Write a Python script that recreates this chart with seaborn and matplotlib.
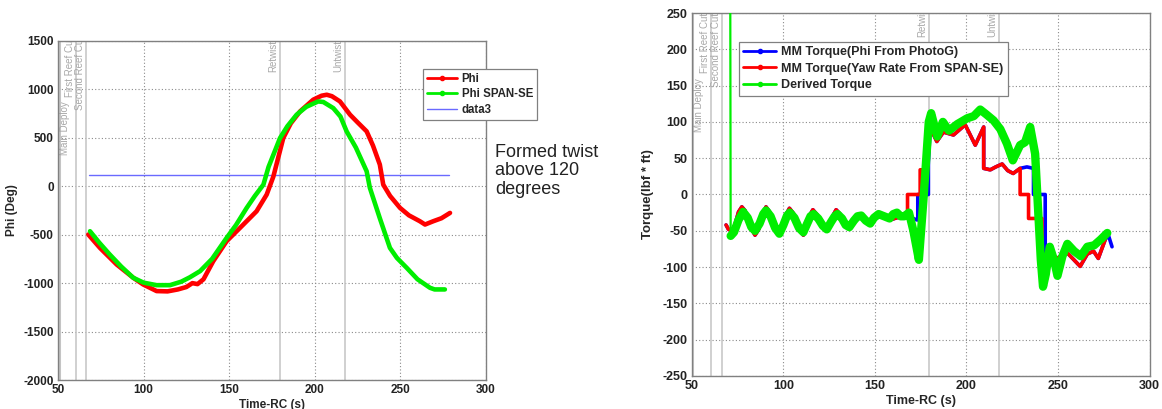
import numpy as np
import pandas as pd
import matplotlib
matplotlib.use("Agg")
import matplotlib.pyplot as plt
from matplotlib.lines import Line2D
import seaborn as sns

# ---------------- data ----------------
# Left panel: Phi (deg) vs Time-RC (s)
phi_t = [67.7, 74.5, 84.3, 94, 99.8, 107.6, 114, 120, 125, 128.5, 131.5, 135, 140.7, 148.5,
         156.3, 166, 171.9, 175.8, 181.6, 186, 191.4, 199.1, 204, 207, 210, 214.7, 220.6, 225,
         230.3, 234, 238, 240, 244, 249.8, 255, 261.4, 264.4, 269.2, 274, 279]
phi_v = [-498, -636, -808, -945, -1014, -1082, -1085, -1065, -1040, -1000, -1010, -960, -773, -567,
         -430, -258, -86, 100, 498, 650, 773, 894, 935, 945, 930, 876, 739, 660,
         567, 420, 224, 17, -100, -223, -300, -361, -395, -361, -330, -275]

phis_t = [68.7, 74, 80, 87, 94, 100, 107.6, 115.4, 122, 127, 133, 140, 148.5, 154, 160.2, 165, 170,
          173, 179.7, 184, 189.4, 195, 202, 205, 210.8, 215, 218.6, 224, 230.3, 232.2, 238, 243.9,
          248, 253.7, 260, 267.3, 270, 276]
phis_v = [-464, -580, -700, -830, -945, -995, -1021, -1021, -985, -940, -876, -750, -533, -400, -224,
          -100, 17, 200, 498, 620, 739, 820, 876, 870, 807, 720, 567, 400, 155, -17, -330, -636,
          -740, -842, -960, -1048, -1065, -1065]

data3_t = [68, 278.5]
data3_v = [120, 120]

# Right panel: Torque (lbf*ft) vs Time-RC (s)
yaw_t = [68.7, 70, 71.8, 73.5, 75.5, 77.3, 79, 81.5, 84.5, 86.5, 88.5, 90.5, 92.5, 95, 97.8, 100,
         101.8, 103.3, 105.5, 108.5, 110.9, 113, 114.5, 116.1, 118.5, 121.5, 123.7, 126, 127.5,
         128.8, 131, 134, 136.1, 138.5, 140.5, 141.9, 144, 147.4, 149.5, 151.9, 155, 158.3, 162,
         165.6, 167.8,
         167.8, 174.7, 174.7, 178.7, 178.7, 180.2, 183.8, 187.4, 192.9,
         199.3, 204.8, 209.4, 209.4, 213, 216, 219.5, 222.5, 225.5, 229.3, 229.3, 233.9, 233.9,
         241.2, 241.2, 244, 249.4, 254.9, 262.1, 266, 269.4, 272, 275.8]
yaw_v = [-42, -48, -50, -42, -24, -17, -22, -42, -56, -48, -28, -17, -24, -45, -55, -44,
         -26, -19, -26, -48, -56, -45, -28, -21, -28, -44, -50, -40, -27,
         -21, -27, -40, -45, -38, -30, -28, -32, -40, -36, -30, -32, -35, -32,
         -30, -30,
         0, 0, 34, 34, 90, 92, 73, 86, 82,
         96, 68, 93, 36, 34, 38, 42, 33, 29, 36, 0, 0, -33,
         -33, -97, -85, -88, -80, -99, -82, -78, -88, -62]

photo_t = [68.7, 70, 71.8, 73.5, 75.5, 77.3, 79, 81.5, 84.5, 86.5, 88.5, 90.5, 92.5, 95, 97.8, 100,
           101.8, 103.3, 105.5, 108.5, 110.9, 113, 114.5, 116.1, 118.5, 121.5, 123.7, 126, 127.5,
           128.8, 131, 134, 136.1, 138.5, 140.5, 141.9, 144, 147.4, 149.5, 151.9, 155, 158.3, 162,
           165.6, 167.8,
           172.9, 173.4, 173.4, 179.2, 179.2, 180.2, 183.8, 187.4, 192.9,
           199.3, 204.8, 209.4, 209.4, 213, 216, 219.5, 222.5, 225.5, 229.3, 233, 236.6, 236.6,
           243, 243, 244, 249.4, 254.9, 262.1, 266, 269.4, 272, 275.8, 277.5, 279.5]
photo_v = [-42, -48, -50, -42, -24, -17, -22, -42, -56, -48, -28, -17, -24, -45, -55, -44,
           -26, -19, -26, -48, -56, -45, -28, -21, -28, -44, -50, -40, -27,
           -21, -27, -40, -45, -38, -30, -28, -32, -40, -36, -30, -32, -35, -32,
           -30, -30,
           -35, -35, 0, 0, 45, 92, 73, 86, 82,
           96, 68, 93, 36, 34, 38, 42, 33, 29, 36, 38, 36, 0,
           0, -90, -85, -88, -80, -99, -82, -78, -88, -62, -56, -72]

der_t = [70.9, 71.2, 73, 75.5, 78, 80.5, 82.5, 84.5, 87, 89, 90.5, 93, 95.5, 97.8, 100, 102, 103.5,
         106, 108.5, 110.9, 113, 114.8, 116.5, 119, 121.5, 123.7, 126, 128, 129.5, 132, 134, 136,
         138.5, 140.5, 142.5, 145, 147.4, 149.5, 152, 155, 158, 160, 162, 164, 166, 168.6,
         171, 174, 176.7, 179.4, 180.7, 184, 187.1, 190.4, 195, 200.4,
         204, 207.5, 211, 214.8, 218.5, 222.1, 225.3, 229.3, 232, 234.8, 237.5, 239.1, 240.6, 241.8,
         243.3, 245.5, 247.8, 249.7, 252.4, 255.1, 258.8, 262.4, 266, 269.7, 273.3, 276.9]
der_v = [400, -57, -52, -35, -24, -32, -45, -50, -40, -27, -22, -30, -46, -54, -42, -29, -25,
         -32, -46, -52, -40, -30, -27, -33, -43, -48, -38, -30, -27, -33, -42, -45,
         -36, -30, -29, -36, -40, -32, -27, -30, -33, -27, -25, -30, -30, -25,
         -50, -90, 0, 100, 112, 80, 100, 88, 97, 105,
         108, 117, 110, 102, 90, 70, 47, 68, 72, 93, 56, -20, -90, -127,
         -110, -72, -90, -112, -85, -68, -78, -85, -72, -70, -62, -53]

events = ["Main Deploy", "First Reef Cut", "Second Reef Cut", "Retwist", "Untwist"]
event_t = [50.3, 60.7, 66.5, 179.5, 217.5]

# ---------------- style ----------------
sns.set_theme(style="white")
plt.rcParams["font.family"] = ["Liberation Sans", "DejaVu Sans"]
plt.rcParams["axes.unicode_minus"] = False

fig = plt.figure(figsize=(11.62, 4.09), dpi=100)
axL = fig.add_axes([0.04991, 0.0709, 0.3683, 0.8289])
axR = fig.add_axes([0.5954, 0.0807, 0.3939, 0.8875])

RED, GREEN, BLUE = "#ff0000", "#00ee00", "#0000ff"


def style_axes(ax, xlim, ylim, yticks, fs):
    ax.set_xlim(*xlim)
    ax.set_ylim(*ylim)
    ax.set_xticks(range(50, 301, 50))
    ax.set_yticks(yticks)
    ax.grid(True, color="#8a8a8a", linestyle=(0, (1, 2)), linewidth=0.8)
    for s in ax.spines.values():
        s.set_color("#808080")
        s.set_linewidth(1.0)
    ax.tick_params(direction="in", length=3, color="#808080", labelsize=fs, pad=3)
    for lab in ax.get_xticklabels() + ax.get_yticklabels():
        lab.set_fontweight("bold")
        lab.set_color("#222222")


def draw_events(ax, bottoms, fs=7):
    for name, t, yb in zip(events, event_t, bottoms):
        lw = 2.2 if name == "Main Deploy" else 1.1
        ax.axvline(t, color="#c4c4c4", lw=lw, zorder=1)
        if name == "Main Deploy":
            # kept inside the axes, below the reef-cut labels, clear of the tick labels
            txt = ax.text(t + 0.9, yb, name, rotation=90, ha="left", va="bottom",
                          transform=ax.get_xaxis_transform(), color="#a8a8a8", fontsize=fs,
                          zorder=1)
        else:
            txt = ax.text(t - 0.8, yb, name, rotation=90, ha="right", va="bottom",
                          transform=ax.get_xaxis_transform(), color="#a8a8a8", fontsize=fs,
                          zorder=1)
        txt.set_clip_on(True)


# ---------- Left panel ----------
style_axes(axL, (50, 300), (-2000, 1500), range(-2000, 1501, 500), 8.5)
draw_events(axL, [0.665, 0.835, 0.796, 0.909, 0.909])
sns.lineplot(x=phi_t, y=phi_v, ax=axL, color=RED, lw=3.3, sort=False, estimator=None, zorder=3)
sns.lineplot(x=phis_t, y=phis_v, ax=axL, color=GREEN, lw=3.3, sort=False, estimator=None, zorder=4)
sns.lineplot(x=data3_t, y=data3_v, ax=axL, color="#6a6aff", lw=1.0, sort=False, estimator=None, zorder=2)
axL.set_xlabel("Time-RC (s)", fontsize=8.5, fontweight="bold", labelpad=2)
axL.set_ylabel("Phi (Deg)", fontsize=8.5, fontweight="bold", labelpad=4)

hL = [Line2D([], [], color=RED, lw=2, marker=".", markersize=6),
      Line2D([], [], color=GREEN, lw=2, marker=".", markersize=6),
      Line2D([], [], color="#6a6aff", lw=1)]
legL = fig.legend(hL, ["Phi", "Phi SPAN-SE", "data3"], loc="upper left",
                  bbox_to_anchor=(423 / 1162, 1 - 69 / 409), prop={"size": 8.3, "weight": "bold"},
                  frameon=True, fancybox=False, edgecolor="#808080", framealpha=1,
                  handlelength=2.6, handletextpad=0.4, labelspacing=0.3, borderpad=0.35,
                  borderaxespad=0)
legL.get_frame().set_linewidth(0.9)

fig.text(495 / 1162, 1 - 144 / 409, "Formed twist\nabove 120\ndegrees", ha="left", va="top",
         fontsize=13, color="#222222", linespacing=1.1)

# ---------- Right panel ----------
style_axes(axR, (50, 300), (-250, 250), range(-250, 251, 50), 9)
draw_events(axR, [0.672, 0.835, 0.796, 0.934, 0.934])
sns.lineplot(x=photo_t, y=photo_v, ax=axR, color=BLUE, lw=2.6, sort=False, estimator=None, zorder=3)
sns.lineplot(x=yaw_t, y=yaw_v, ax=axR, color=RED, lw=2.6, sort=False, estimator=None, zorder=4)
sns.lineplot(x=der_t[:2], y=der_v[:2], ax=axR, color=GREEN, lw=1.6, sort=False, estimator=None, zorder=5)
sns.lineplot(x=der_t[1:], y=der_v[1:], ax=axR, color=GREEN, lw=6.0, sort=False, estimator=None, zorder=5)
axR.set_xlabel("Time-RC (s)", fontsize=9, fontweight="bold", labelpad=2)
axR.set_ylabel("Torque(lbf * ft)", fontsize=9.5, fontweight="bold", labelpad=6)

hR = [Line2D([], [], color=BLUE, lw=2, marker=".", markersize=6),
      Line2D([], [], color=RED, lw=2, marker=".", markersize=6),
      Line2D([], [], color=GREEN, lw=2, marker=".", markersize=6)]
legR = fig.legend(hR, ["MM Torque(Phi From PhotoG)", "MM Torque(Yaw Rate From SPAN-SE)", "Derived Torque"],
                  loc="upper left", bbox_to_anchor=(739 / 1162, 1 - 42 / 409),
                  prop={"size": 9, "weight": "bold"}, frameon=True, fancybox=False,
                  edgecolor="#808080", framealpha=1, handlelength=2.6, handletextpad=0.4,
                  labelspacing=0.35, borderpad=0.35, borderaxespad=0)
legR.get_frame().set_linewidth(0.9)

for ax in (axL, axR):
    if ax.get_legend() is not None:
        ax.get_legend().remove()

fig.savefig("out.png", dpi=100, facecolor="white")
